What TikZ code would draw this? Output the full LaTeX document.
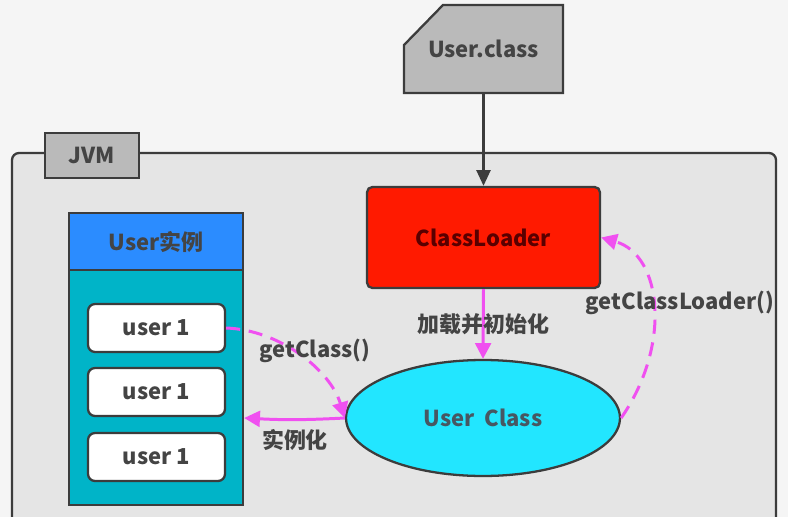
\documentclass[tikz,border=0pt]{standalone}
\usepackage{fontspec}
\setmainfont{Noto Sans CJK SC}
\usetikzlibrary{arrows.meta,positioning,shapes.geometric}
\definecolor{linegray}{HTML}{3C3C3C}
\definecolor{txtgray}{HTML}{444444}
\definecolor{pinkline}{HTML}{F050F0}
\definecolor{loaderred}{HTML}{FF1A00}
\definecolor{headblue}{HTML}{2B8CFF}
\definecolor{bodyteal}{HTML}{00B4C8}
\definecolor{classcyan}{HTML}{22E6FF}

\begin{document}
\begin{tikzpicture}[x=0.02cm,y=-0.02cm,
    box/.style={draw=linegray,line width=1.3pt},
    txt/.style={text=txtgray,font=\bfseries\fontsize{12.5}{14}\selectfont},
    pinkarrow/.style={draw=pinkline,line width=1.7pt,-{Triangle[length=9pt,width=9pt]}}]
      \useasboundingbox[fill=black!4] (0,0) rectangle (788,517);

      % JVM frame and tab
      \draw[box,fill=black!10,rounded corners=4pt] (12,153) rectangle (776,560);
      \node (jvm) [box,fill=black!27,txt,minimum width=1.88cm,minimum height=0.9cm] at (92,155.5) {JVM};

      % User.class file
      \draw[box,fill=black!27] (404,93) -- (404,45) -- (443,5) -- (563,5) -- (563,93) -- cycle;
      \node (uclass) [txt,minimum width=3.18cm,minimum height=1.76cm] at (483.5,49) {User.class};

      % class loader and class object
      \node (loader) [box,fill=loaderred,rounded corners=3pt,minimum width=4.66cm,minimum height=2.02cm,
        txt,text=red!35!black] at (483.5,237.5) {ClassLoader};
      \node (ucls) [box,ellipse,fill=classcyan,minimum width=5.48cm,minimum height=2.32cm,
        txt,text=cyan!30!black] at (483,418) {User\ \ Class};

      % instances
      \node (body) [box,fill=bodyteal,minimum width=3.48cm,minimum height=4.7cm] at (156,387.5) {};
      \node (inst) [box,fill=headblue,minimum width=3.48cm,minimum height=1.14cm,txt] at (156,241.5) {User实例};
      \foreach \y/\n in {328/u1, 392/u2, 457/u3}
      \node (\n) [box,fill=white,rounded corners=4pt,minimum width=2.74cm,minimum height=0.96cm,txt] at (156.5,\y) {user 1};

      % connectors
      \draw[draw=linegray,line width=1.3pt,-{Triangle[length=9pt,width=8pt]}] (uclass.south) -- (loader.north);
      \draw[pinkarrow] (loader.south) -- node[txt] {加载并初始化} (ucls.north);
      \draw[pinkarrow,dashed,dash pattern=on 8pt off 5pt] (u1.east) .. controls (280,330) and (330,370) .. (ucls.west);
      \draw[pinkarrow] (ucls.west) to[bend left=3] (body.east |- ucls.west);
      \draw[pinkarrow,dashed,dash pattern=on 8pt off 5pt] (ucls.east) .. controls (672,345) and (662,255) .. (loader.east);

      \node (getcls) [txt] at (315,351) {getClass()};
      \node (newinst) [txt] at (295,440) {实例化};
      \node (getldr) [txt] at (680,303) {getClassLoader()};
\end{tikzpicture}
\end{document}
